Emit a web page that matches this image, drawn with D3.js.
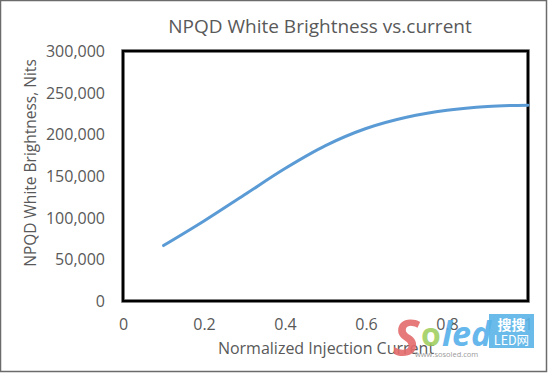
<!DOCTYPE html>
<html>
<head>
<meta charset="utf-8">
<script src="https://cdn.jsdelivr.net/npm/d3@7.9.0/dist/d3.min.js"></script>
<style>
  html, body { margin: 0; padding: 0; background: #fff; }
  svg { display: block; font-family: "Open Sans", "DejaVu Sans", sans-serif; }
</style>
</head>
<body>
<svg id="chart" width="549" height="374"></svg>
<script>
// --- data ---
const current    = [0.1, 0.2, 0.3, 0.4, 0.5, 0.6, 0.7, 0.8, 0.9, 1.0];
const brightness = [66500, 96000, 127500, 159000, 186500, 207000, 220500, 229000, 233500, 235000];
const xTicks = [0, 0.2, 0.4, 0.6, 0.8, 1];
const yTicks = [0, 50000, 100000, 150000, 200000, 250000, 300000];

const plot = { left: 123, right: 528, top: 51, bottom: 301 };

const svg = d3.select('#chart');

// chart border
svg.append('rect')
  .attr('x', 0.5).attr('y', 0.5).attr('width', 546).attr('height', 371)
  .attr('fill', '#fff').attr('stroke', '#6b6b6b').attr('stroke-width', 1.5);

const x = d3.scaleLinear().domain([0, 1]).range([plot.left, plot.right]);
const y = d3.scaleLinear().domain([0, 300000]).range([plot.bottom, plot.top]);

// title
svg.append('text')
  .attr('x', 320).attr('y', 33)
  .attr('text-anchor', 'middle')
  .attr('font-size', 19).attr('fill', '#595959')
  .text('NPQD White Brightness vs.current');

// axes (labels only, no lines)
const yAxis = svg.append('g')
  .attr('transform', `translate(${plot.left - 15},0)`)
  .call(d3.axisLeft(y).tickValues(yTicks).tickSize(0).tickFormat(d3.format(',')));
yAxis.select('.domain').remove();
yAxis.selectAll('text').attr('font-size', 16).attr('fill', '#595959')
  .attr('font-family', '"Open Sans", sans-serif').attr('dy', '0.35em');

const xAxis = svg.append('g')
  .attr('transform', `translate(0,${plot.bottom + 15})`)
  .call(d3.axisBottom(x).tickValues(xTicks).tickSize(0).tickFormat(d3.format('')));
xAxis.select('.domain').remove();
xAxis.selectAll('text').attr('font-size', 16).attr('fill', '#595959')
  .attr('font-family', '"Open Sans", sans-serif').attr('dy', '0.71em');

// axis titles
svg.append('text')
  .attr('transform', 'translate(36,163) rotate(-90)')
  .attr('text-anchor', 'middle')
  .attr('font-size', 15.5).attr('fill', '#595959')
  .text('NPQD White Brightness, Nits');

svg.append('text')
  .attr('x', 326).attr('y', 354)
  .attr('text-anchor', 'middle')
  .attr('font-size', 16).attr('fill', '#595959')
  .text('Normalized Injection Current');

// plot frame
svg.append('rect')
  .attr('x', plot.left).attr('y', plot.top)
  .attr('width', plot.right - plot.left).attr('height', plot.bottom - plot.top)
  .attr('fill', 'none').attr('stroke', '#aaa').attr('stroke-width', 4);
svg.append('rect')
  .attr('x', plot.left).attr('y', plot.top)
  .attr('width', plot.right - plot.left).attr('height', plot.bottom - plot.top)
  .attr('fill', 'none').attr('stroke', '#000').attr('stroke-width', 2.5);

// series
const line = d3.line()
  .x((d, i) => x(current[i]))
  .y(d => y(d))
  .curve(d3.curveCatmullRom.alpha(0.5));

svg.append('path')
  .datum(brightness)
  .attr('d', line)
  .attr('fill', 'none')
  .attr('stroke', '#5b9bd5')
  .attr('stroke-width', 3)
  .attr('stroke-linecap', 'round');

// watermark
const wm = svg.append('g');
wm.append('text').attr('x', 393).attr('y', 356)
  .attr('font-size', 50).attr('font-weight', 'bold').attr('font-style', 'italic')
  .attr('fill', '#e46b6b').attr('opacity', 0.9).text('S');
wm.append('text').attr('x', 421).attr('y', 346)
  .attr('font-size', 32).attr('font-weight', 'bold')
  .attr('fill', '#9ccc5a').attr('opacity', 0.85).text('o');
wm.append('text').attr('x', 442).attr('y', 346)
  .attr('font-size', 34).attr('font-weight', 'bold').attr('font-style', 'italic')
  .attr('fill', '#55b0ea').attr('opacity', 0.9).text('led');
wm.append('text').attr('x', 415).attr('y', 357)
  .attr('font-size', 7.5).attr('fill', '#9a9a9a').text('www.sosoled.com');
wm.append('rect').attr('x', 489).attr('y', 314).attr('width', 45).attr('height', 34)
  .attr('fill', '#5ab4e8').attr('opacity', 0.9);
wm.append('text').attr('x', 511.5).attr('y', 330)
  .attr('text-anchor', 'middle').attr('font-size', 14).attr('font-weight', 'bold')
  .attr('font-family', '"Noto Sans CJK SC", sans-serif').attr('fill', '#fff').text('搜搜');
wm.append('text').attr('x', 511.5).attr('y', 345)
  .attr('text-anchor', 'middle').attr('font-size', 12.5)
  .attr('font-family', '"Noto Sans CJK SC", sans-serif').attr('fill', '#fff').text('LED网');
</script>
</body>
</html>
